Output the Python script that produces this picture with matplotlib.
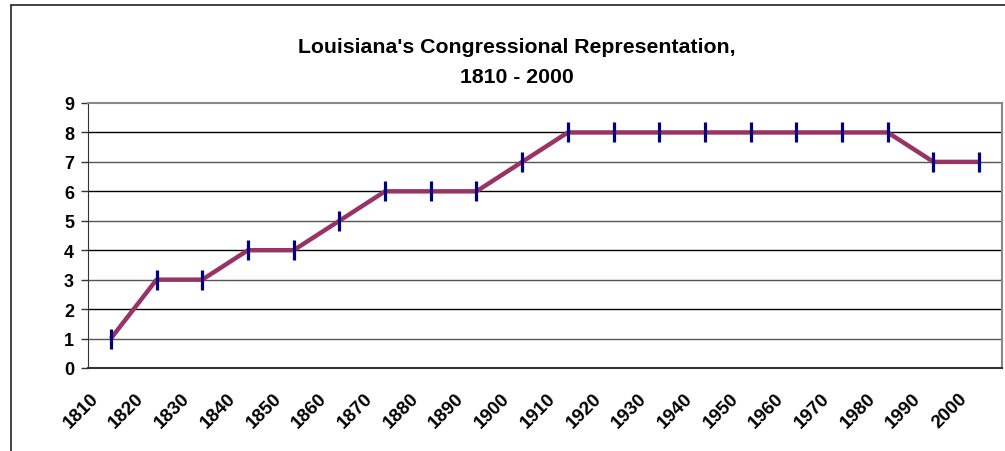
import numpy as np
import matplotlib.pyplot as plt
import matplotlib.transforms as mtransforms
from matplotlib.patches import Rectangle

plt.rcParams['font.family'] = ['Liberation Sans', 'DejaVu Sans']

years = [str(y) for y in range(1810, 2001, 10)]
seats = [1, 3, 3, 4, 4, 5, 6, 6, 6, 7, 8, 8, 8, 8, 8, 8, 8, 8, 7, 7]

W, H = 1005, 452
fig = plt.figure(figsize=(W / 100, H / 100), dpi=100)

# chart area border (cropped on right and bottom)
fig.patches.append(Rectangle((11 / W, -0.1), 1.2, 1 - 6 / H + 0.1,
                             transform=fig.transFigure, fill=False,
                             edgecolor='#222222', linewidth=1.2))

ax = fig.add_axes([88 / W, 1 - 369 / H, (1002 - 88) / W, (369 - 104) / H])
x = np.arange(len(years))
ax.plot(x, seats, color='#993366', linewidth=3.2, solid_capstyle='butt', zorder=3)
ax.plot(x, seats, linestyle='none', marker='|', markersize=14.5,
        markeredgewidth=2.3, color='#000080', zorder=4)

ax.set_xlim(-0.5, len(years) - 0.5)
ax.set_ylim(0, 9)
ax.set_yticks(range(10))
ax.set_yticklabels([str(i) for i in range(10)], fontsize=13, fontweight='bold')
ax.tick_params(axis='y', length=5, width=1, color='#333333', pad=5)
ax.set_xticks(x)
ax.set_xticklabels(years, fontsize=13.5, fontweight='bold', rotation=45,
                   ha='right', va='center', rotation_mode='anchor')
ax.tick_params(axis='x', length=0, pad=19.5)
off = mtransforms.ScaledTranslation(-15 / 100, 0, fig.dpi_scale_trans)
for lab in ax.get_xticklabels():
    lab.set_transform(lab.get_transform() + off)

for yv in range(1, 9):
    ax.axhline(yv, color='black' if yv % 2 == 0 else '#555555', linewidth=1, zorder=1)

ax.spines['left'].set_color('#333333')
ax.spines['bottom'].set_color('#333333')
ax.spines['bottom'].set_linewidth(1.5)
ax.spines['top'].set_color('#888888')
ax.spines['top'].set_linewidth(1.5)
ax.spines['right'].set_color('#888888')
ax.spines['right'].set_linewidth(1.5)

fig.text(517 / W, 1 - 53 / H, "Louisiana's Congressional Representation,",
         ha='center', va='baseline', fontsize=15.3, fontweight='bold')
fig.text(517 / W, 1 - 83 / H, "1810 - 2000",
         ha='center', va='baseline', fontsize=15.3, fontweight='bold')

fig.savefig('out.png', dpi=100, facecolor='white')
